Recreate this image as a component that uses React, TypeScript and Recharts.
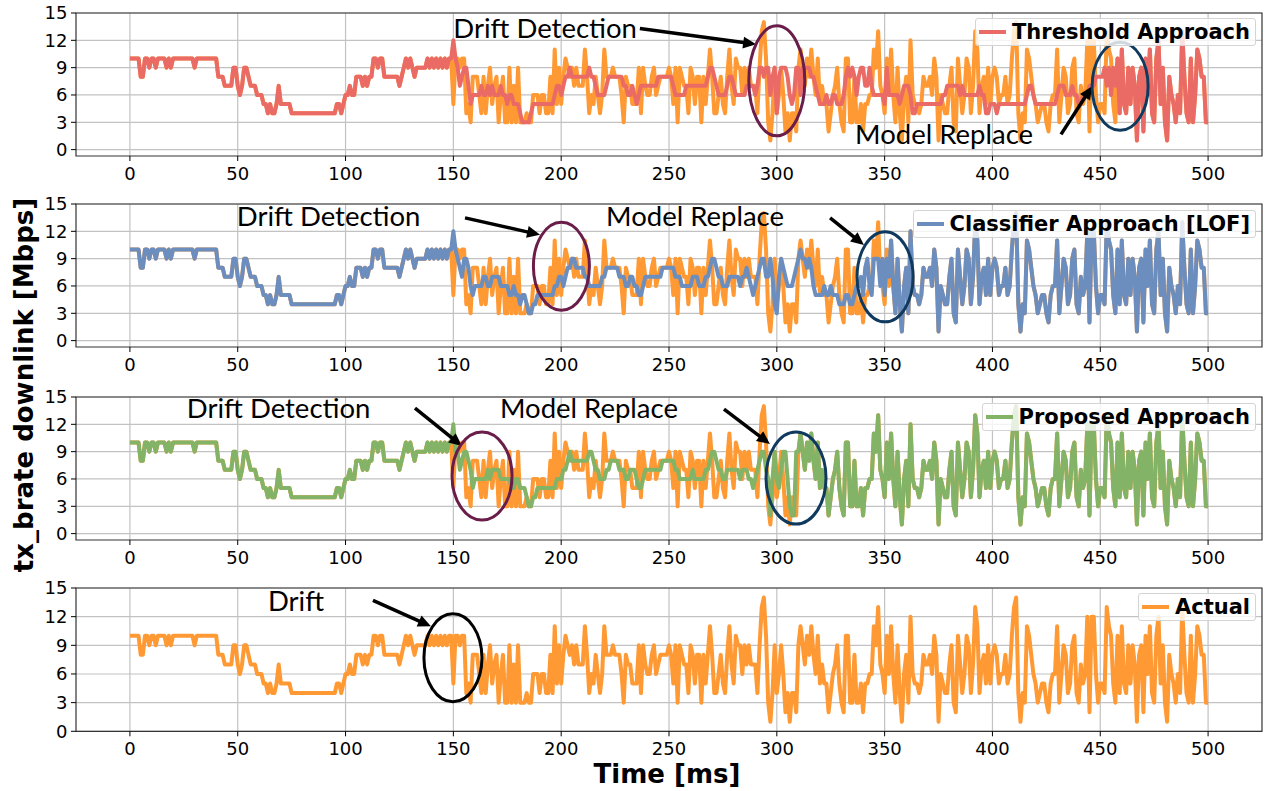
import React from 'react';
import {
  LineChart,
  Line,
  XAxis,
  YAxis,
  CartesianGrid,
  ReferenceDot,
  ReferenceLine,
  ReferenceArea,
  Legend,
} from 'recharts';

// ---------------- data ----------------
const timeValues: number[] = Array.from({ length: 501 }, (_, i) => i);

const actualValues: number[] = [
  10, 10, 10, 10, 10, 8, 8, 10, 10, 9,
  10, 10, 9, 10, 10, 10, 10, 9, 10, 9,
  10, 10, 10, 10, 10, 10, 10, 10, 10, 10,
  9, 10, 10, 10, 10, 10, 10, 10, 10, 10,
  10, 8, 8, 8, 7, 7, 7, 7, 9, 9,
  7, 6, 7, 9, 9, 8, 7, 7, 7, 6,
  6, 6, 5, 5, 4, 5, 4, 4, 5, 7,
  5, 5, 5, 5, 5, 4, 4, 4, 4, 4,
  4, 4, 4, 4, 4, 4, 4, 4, 4, 4,
  4, 4, 4, 4, 4, 4, 5, 5, 4, 5,
  6, 6, 7, 6, 6, 8, 8, 8, 7, 8,
  7, 8, 8, 10, 10, 9, 10, 10, 8, 8,
  8, 8, 8, 8, 8, 7, 8, 9, 10, 9,
  10, 9, 8, 9, 9, 9, 9, 9, 10, 9,
  10, 9, 10, 9, 10, 9, 10, 9, 10, 10,
  5, 10, 10, 9, 10, 10, 4, 5, 3, 8,
  8, 8, 6, 4, 8, 4, 7, 9, 5, 7,
  8, 3, 6, 8, 3, 3, 9, 3, 7, 3,
  9, 3, 3, 3, 4, 3, 3, 6, 6, 6,
  4, 6, 6, 4, 4, 8, 4, 11, 5, 9,
  5, 8, 10, 9, 8, 9, 7, 9, 7, 7,
  7, 11, 8, 4, 6, 5, 8, 6, 4, 6,
  11, 8, 8, 8, 9, 8, 8, 8, 6, 3,
  8, 7, 7, 5, 5, 5, 9, 4, 9, 7,
  6, 6, 8, 9, 6, 7, 8, 8, 8, 8,
  9, 8, 5, 9, 3, 9, 8, 7, 7, 4,
  9, 8, 5, 8, 8, 3, 8, 5, 8, 11,
  8, 4, 4, 6, 8, 5, 4, 8, 11, 7,
  5, 10, 9, 9, 6, 9, 7, 9, 7, 7,
  7, 4, 9, 13, 14, 10, 3, 1, 4, 9,
  4, 6, 9, 6, 2, 4, 1, 4, 4, 2,
  9, 11, 9, 7, 10, 8, 11, 8, 6, 10,
  5, 7, 5, 5, 2, 4, 6, 7, 9, 5,
  3, 2, 10, 10, 3, 3, 8, 3, 3, 5,
  2, 5, 5, 6, 6, 11, 9, 13, 7, 6,
  4, 10, 6, 11, 6, 3, 9, 4, 1, 6,
  8, 3, 12, 6, 5, 5, 4, 5, 8, 7,
  7, 8, 6, 10, 8, 1, 6, 5, 4, 4,
  7, 9, 3, 2, 10, 7, 4, 6, 10, 9,
  4, 7, 13, 11, 4, 7, 8, 5, 9, 5,
  8, 9, 8, 5, 6, 6, 8, 5, 6, 10,
  13, 14, 4, 1, 4, 3, 11, 10, 8, 6,
  5, 3, 4, 5, 5, 3, 2, 5, 6, 6,
  11, 3, 6, 9, 8, 4, 5, 9, 10, 4,
  3, 7, 5, 6, 12, 2, 12, 12, 6, 3,
  5, 5, 4, 13, 11, 10, 5, 3, 10, 4,
  11, 5, 4, 9, 5, 9, 7, 1, 8, 9,
  2, 10, 6, 11, 4, 3, 10, 12, 5, 9,
  3, 1, 8, 6, 5, 3, 6, 4, 13, 8,
  4, 3, 10, 3, 6, 11, 10, 8, 8, 3,
  3,
];

// threshold approach, t = 150 .. 457 (before and after it overlays the actual trace)
const thresholdDriftValues: number[] = [
  12, 10, 9, 7, 8, 9, 9, 7, 5, 6,
  6, 6, 6, 7, 6, 6, 7, 6, 7, 6,
  6, 6, 7, 6, 6, 5, 6, 6, 5, 5,
  5, 4, 3, 3, 3, 3, 4, 5, 5, 5,
  5, 5, 5, 5, 5, 5, 5, 6, 7, 7,
  6, 7, 8, 8, 9, 8, 8, 8, 8, 8,
  8, 8, 8, 9, 8, 8, 7, 6, 6, 6,
  6, 7, 8, 8, 8, 8, 8, 8, 8, 7,
  7, 6, 6, 7, 6, 5, 6, 7, 7, 7,
  7, 7, 7, 7, 7, 8, 8, 8, 8, 8,
  8, 8, 7, 6, 6, 6, 6, 6, 7, 7,
  7, 7, 7, 7, 7, 7, 7, 7, 8, 9,
  9, 8, 7, 6, 6, 6, 6, 7, 8, 8,
  7, 6, 6, 6, 6, 6, 7, 7, 7, 7,
  6, 7, 9, 9, 8, 9, 9, 6, 8, 9,
  4, 8, 9, 9, 9, 8, 6, 5, 6, 9,
  9, 6, 9, 9, 9, 9, 8, 8, 7, 6,
  5, 5, 5, 6, 5, 5, 6, 6, 5, 5,
  5, 6, 8, 9, 8, 9, 8, 6, 8, 9,
  9, 7, 7, 9, 7, 6, 6, 6, 6, 6,
  5, 9, 6, 6, 6, 6, 6, 5, 6, 7,
  7, 7, 6, 4, 4, 5, 5, 5, 5, 5,
  5, 5, 5, 5, 5, 5, 5, 6, 6, 7,
  7, 7, 7, 7, 7, 6, 7, 6, 6, 6,
  6, 6, 6, 6, 7, 6, 6, 4, 4, 5,
  5, 5, 4, 5, 5, 5, 5, 5, 5, 5,
  5, 5, 5, 5, 5, 5, 6, 7, 7, 6,
  5, 5, 5, 5, 5, 5, 5, 5, 5, 5,
  6, 7, 7, 7, 6, 6, 6, 7, 6, 6,
  5, 5, 6, 6, 6, 7, 7, 7, 8, 8,
  8, 8, 9, 7, 9, 6, 9, 7,
];

// classifier approach [LOF], t = 150 .. 352
const classifierDriftValues: number[] = [
  12, 10, 9, 8, 7, 9, 9, 8, 6, 5,
  6, 6, 6, 6, 7, 7, 6, 6, 7, 7,
  7, 7, 6, 6, 6, 6, 5, 5, 6, 5,
  5, 4, 5, 5, 4, 3, 3, 4, 4, 5,
  5, 5, 5, 5, 5, 5, 5, 6, 6, 7,
  7, 6, 7, 8, 8, 9, 9, 8, 8, 8,
  8, 7, 7, 6, 6, 6, 6, 6, 6, 7,
  7, 8, 8, 8, 8, 8, 8, 7, 7, 7,
  6, 6, 7, 7, 6, 6, 5, 5, 6, 7,
  7, 7, 7, 7, 7, 7, 7, 8, 8, 8,
  8, 8, 8, 7, 7, 7, 6, 6, 6, 6,
  6, 7, 7, 7, 6, 6, 6, 7, 7, 8,
  9, 9, 8, 7, 7, 6, 6, 6, 7, 7,
  7, 7, 7, 6, 7, 7, 8, 7, 6, 5,
  6, 7, 8, 9, 9, 7, 7, 9, 7, 4,
  3, 7, 9, 8, 7, 6, 6, 6, 7, 8,
  9, 10, 9, 9, 8, 9, 8, 6, 5, 5,
  5, 5, 6, 5, 5, 6, 5, 5, 5, 4,
  4, 4, 5, 5, 4, 4, 5, 6, 6, 7,
  5, 8, 9, 6, 5, 9, 9, 9, 6, 9,
  5, 9, 7,
];

// proposed approach, t = 150 .. 310
const proposedDriftValues: number[] = [
  12, 9, 9, 7, 8, 9, 9, 8, 7, 5,
  6, 6, 6, 6, 6, 6, 7, 6, 7, 7,
  7, 7, 6, 6, 6, 6, 6, 5, 5, 6,
  6, 5, 5, 5, 4, 3, 3, 4, 4, 5,
  5, 5, 5, 5, 5, 5, 5, 5, 6, 6,
  6, 7, 7, 8, 9, 8, 8, 8, 8, 8,
  8, 8, 8, 9, 9, 8, 7, 7, 6, 6,
  6, 7, 7, 8, 8, 8, 8, 7, 7, 7,
  6, 6, 7, 7, 7, 6, 5, 5, 6, 7,
  7, 7, 7, 7, 7, 7, 7, 8, 8, 8,
  8, 8, 8, 7, 7, 6, 6, 6, 6, 6,
  6, 7, 6, 6, 6, 6, 6, 7, 7, 8,
  9, 9, 8, 7, 7, 6, 6, 7, 7, 7,
  7, 7, 7, 6, 7, 7, 7, 6, 6, 5,
  6, 7, 8, 9, 9, 7, 6, 2, 6, 9,
  6, 5, 7, 9, 9, 6, 3, 2, 2, 9,
  9,
];

// before drift each model tracks the actual trace; after its model replacement it tracks it again
const thresholdValues: number[] = [
  ...actualValues.slice(0, 150),
  ...thresholdDriftValues,
  ...actualValues.slice(458),
];
const classifierValues: number[] = [
  ...actualValues.slice(0, 150),
  ...classifierDriftValues,
  ...actualValues.slice(353),
];
const proposedValues: number[] = [
  ...actualValues.slice(0, 150),
  ...proposedDriftValues,
  ...actualValues.slice(311),
];

const xTicks = [0, 50, 100, 150, 200, 250, 300, 350, 400, 450, 500];
const yTicks = [0, 3, 6, 9, 12, 15];

// ---------------- styles ----------------
const ORANGE = '#ff9933';
const RED = '#ea6b66';
const BLUE = '#6c8ebf';
const GREEN = '#82b366';
const PURPLE_RING = '#6b1d4a';
const BLUE_RING = '#0f3a5e';
const TICK_FONT = { fontFamily: 'DejaVu Sans', fontSize: 18, fill: '#000' };
const NOTE_FONT_SIZE = 27.5;

const W = 1271;
const PLOT_LEFT = 76;
const PLOT_RIGHT = 1262;
const M_TOP = 10;
const X_AXIS_H = 30;

type Note =
  | { kind: 'text'; x: number; y: number; label: string }
  | { kind: 'arrow'; x1: number; y1: number; x2: number; y2: number }
  | { kind: 'ellipse'; x: number; y: number; rx: number; ry: number; color: string };

const notes1: Note[] = [
  { kind: 'text', x: 150, y: 12.3, label: 'Drift Detection' },
  { kind: 'arrow', x1: 236.5, y1: 13.3, x2: 290.4, y2: 11.56 },
  { kind: 'ellipse', x: 300, y: 7.55, rx: 28, ry: 55, color: PURPLE_RING },
  { kind: 'text', x: 336.3, y: 0.58, label: 'Model Replace' },
  { kind: 'arrow', x1: 431.8, y1: 1.67, x2: 446.2, y2: 6.95 },
  { kind: 'ellipse', x: 459.2, y: 6.95, rx: 28, ry: 44, color: BLUE_RING },
];
const notes2: Note[] = [
  { kind: 'text', x: 49.6, y: 12.6, label: 'Drift Detection' },
  { kind: 'arrow', x1: 155.4, y1: 13.48, x2: 190.2, y2: 11.62 },
  { kind: 'ellipse', x: 200.1, y: 8.16, rx: 28, ry: 44, color: PURPLE_RING },
  { kind: 'text', x: 220.8, y: 12.6, label: 'Model Replace' },
  { kind: 'arrow', x1: 324.7, y1: 13.48, x2: 340.4, y2: 10.5 },
  { kind: 'ellipse', x: 350.2, y: 7.0, rx: 28, ry: 45, color: BLUE_RING },
];
const notes3: Note[] = [
  { kind: 'text', x: 26.4, y: 12.69, label: 'Drift Detection' },
  { kind: 'arrow', x1: 132.2, y1: 13.79, x2: 154, y2: 9.62 },
  { kind: 'ellipse', x: 163.3, y: 6.32, rx: 30, ry: 44, color: PURPLE_RING },
  { kind: 'text', x: 171.6, y: 12.69, label: 'Model Replace' },
  { kind: 'arrow', x1: 275.5, y1: 13.68, x2: 296.8, y2: 9.84 },
  { kind: 'ellipse', x: 308.9, y: 6.1, rx: 30, ry: 46, color: BLUE_RING },
];
const notes4: Note[] = [
  { kind: 'text', x: 64, y: 12.56, label: 'Drift' },
  { kind: 'arrow', x1: 112.7, y1: 13.71, x2: 139.6, y2: 10.99 },
  { kind: 'ellipse', x: 149.8, y: 7.69, rx: 29, ry: 44, color: '#000000' },
];

const arrowShape = (p: any) => {
  const { x1, y1, x2, y2 } = p;
  const dx = x2 - x1;
  const dy = y2 - y1;
  const len = Math.hypot(dx, dy) || 1;
  const ux = dx / len;
  const uy = dy / len;
  const headLen = 13;
  const headW = 6;
  const bx = x2 - ux * headLen;
  const by = y2 - uy * headLen;
  return (
    <g>
      <line x1={x1} y1={y1} x2={bx + ux * 2} y2={by + uy * 2} stroke="#000" strokeWidth={3.5} />
      <polygon
        points={`${x2},${y2} ${bx - uy * headW},${by + ux * headW} ${bx + uy * headW},${by - ux * headW}`}
        fill="#000"
      />
    </g>
  );
};

const renderNotes = (notes: Note[], prefix: string) =>
  notes.map((n, i) => {
    const key = `${prefix}-${i}`;
    if (n.kind === 'arrow') {
      return (
        <ReferenceLine
          key={key}
          segment={[
            { x: n.x1, y: n.y1 },
            { x: n.x2, y: n.y2 },
          ]}
          ifOverflow="visible"
          shape={arrowShape}
        />
      );
    }
    if (n.kind === 'ellipse') {
      return (
        <ReferenceDot
          key={key}
          x={n.x}
          y={n.y}
          r={1}
          ifOverflow="visible"
          shape={(p: any) => (
            <ellipse cx={p.cx} cy={p.cy} rx={n.rx} ry={n.ry} fill="none" stroke={n.color} strokeWidth={3} />
          )}
        />
      );
    }
    return (
      <ReferenceDot
        key={key}
        x={n.x}
        y={n.y}
        r={1}
        ifOverflow="visible"
        shape={(p: any) => (
          <text x={p.cx} y={p.cy} fontFamily="Lato" fontSize={NOTE_FONT_SIZE} fill="#000">
            {n.label}
          </text>
        )}
      />
    );
  });

const LegendBox = ({ label, color }: { label: string; color: string }) => (
  <div
    style={{
      display: 'inline-flex',
      alignItems: 'center',
      background: 'rgba(255,255,255,0.8)',
      border: '1px solid #d4d4d4',
      borderRadius: 3,
      height: 28,
      boxSizing: 'border-box',
      padding: '0 5px 0 2px',
      whiteSpace: 'nowrap',
    }}
  >
    <svg width={30} height={10} style={{ display: 'block' }}>
      <line x1={1} x2={28} y1={5} y2={5} stroke={color} strokeWidth={4} />
    </svg>
    <span
      style={{
        fontFamily: 'DejaVu Sans',
        fontWeight: 'bold',
        fontSize: 21,
        lineHeight: '26px',
        marginLeft: 4,
        color: '#000',
      }}
    >
      {label}
    </span>
  </div>
);

type PanelProps = {
  plotTop: number;
  plotHeight: number;
  yDomain: [number, number];
  pred?: number[];
  predColor?: string;
  legendLabel: string;
  legendColor: string;
  notes: Note[];
  id: string;
};

const Panel = ({ plotTop, plotHeight, yDomain, pred, predColor, legendLabel, legendColor, notes, id }: PanelProps) => {
  const rows = timeValues.map((t, i) => ({
    t,
    actual: actualValues[i],
    pred: pred ? pred[i] : undefined,
  }));
  const height = M_TOP + plotHeight + X_AXIS_H;
  return (
    <div style={{ position: 'absolute', left: 0, top: plotTop - M_TOP, width: W, height }}>
      <LineChart
        width={W}
        height={height}
        data={rows}
        margin={{ top: M_TOP, right: W - PLOT_RIGHT, bottom: 0, left: 0 }}
      >
        <CartesianGrid stroke="#c2c2c2" strokeWidth={1.2} horizontalValues={yTicks} verticalValues={xTicks} />
        <XAxis
          dataKey="t"
          type="number"
          domain={[-25, 525]}
          ticks={xTicks}
          interval={0}
          allowDataOverflow
          axisLine={false}
          tickLine={{ stroke: '#000' }}
          tickSize={5}
          tickMargin={6}
          height={X_AXIS_H}
          tick={TICK_FONT}
        />
        <YAxis
          type="number"
          domain={yDomain}
          ticks={yTicks}
          interval={0}
          allowDataOverflow
          axisLine={false}
          tickLine={{ stroke: '#000' }}
          tickSize={5}
          tickMargin={3.5}
          width={PLOT_LEFT}
          tick={TICK_FONT}
        />
        <ReferenceArea
          x1={-25}
          x2={525}
          y1={yDomain[0]}
          y2={yDomain[1]}
          fill="none"
          fillOpacity={0}
          stroke="#333"
          strokeWidth={1.2}
          ifOverflow="visible"
        />
        <Line
          dataKey="actual"
          type="linear"
          stroke={ORANGE}
          strokeWidth={4}
          dot={false}
          activeDot={false}
          isAnimationActive={false}
          strokeLinejoin="round"
        />
        {pred ? (
          <Line
            dataKey="pred"
            type="linear"
            stroke={predColor}
            strokeWidth={4}
            dot={false}
            activeDot={false}
            isAnimationActive={false}
            strokeLinejoin="round"
          />
        ) : null}
        {renderNotes(notes, id)}
        <Legend
          layout="horizontal"
          align="center"
          verticalAlign="middle"
          wrapperStyle={{ top: M_TOP + 5.6, right: 15, left: 'auto', width: 'auto', height: 'auto' }}
          content={() => <LegendBox label={legendLabel} color={legendColor} />}
        />
      </LineChart>
    </div>
  );
};

export default function App() {
  return (
    <div
      style={{
        position: 'absolute',
        left: 0,
        top: 0,
        width: W,
        height: 791,
        background: '#fff',
        overflow: 'hidden',
      }}
    >
      <Panel
        id="p1"
        plotTop={12.7}
        plotHeight={143}
        yDomain={[-0.7, 15]}
        pred={thresholdValues}
        predColor={RED}
        legendLabel="Threshold Approach"
        legendColor={RED}
        notes={notes1}
      />
      <Panel
        id="p2"
        plotTop={204.2}
        plotHeight={143}
        yDomain={[-0.7, 15]}
        pred={classifierValues}
        predColor={BLUE}
        legendLabel="Classifier Approach [LOF]"
        legendColor={BLUE}
        notes={notes2}
      />
      <Panel
        id="p3"
        plotTop={397}
        plotHeight={143}
        yDomain={[-0.7, 15]}
        pred={proposedValues}
        predColor={GREEN}
        legendLabel="Proposed Approach"
        legendColor={GREEN}
        notes={notes3}
      />
      <Panel
        id="p4"
        plotTop={587.7}
        plotHeight={143.3}
        yDomain={[0, 15]}
        legendLabel="Actual"
        legendColor={ORANGE}
        notes={notes4}
      />
      <svg
        width={W}
        height={791}
        style={{ position: 'absolute', left: 0, top: 0, pointerEvents: 'none' }}
      >
        <text
          x={33}
          y={385}
          transform="rotate(-90, 33, 385)"
          textAnchor="middle"
          fontFamily="DejaVu Sans"
          fontWeight="bold"
          fontSize={26}
          fill="#000"
        >
          tx_brate downlink [Mbps]
        </text>
        <text
          x={667}
          y={783}
          textAnchor="middle"
          fontFamily="DejaVu Sans"
          fontWeight="bold"
          fontSize={26}
          fill="#000"
        >
          Time [ms]
        </text>
      </svg>
    </div>
  );
}
